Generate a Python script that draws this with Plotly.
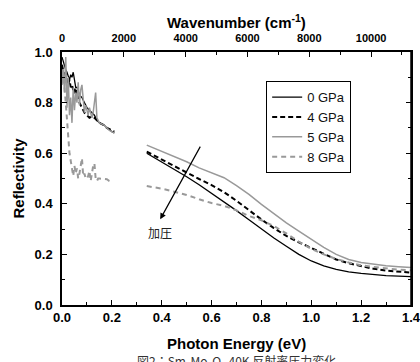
import plotly.graph_objects as go

# ---------------- data ----------------
# low-energy segment (noisy FIR data)
E_low_0 = [0.000,0.005,0.010,0.015,0.020,0.025,0.030,0.035,0.040,0.045,0.050,0.055,0.060,0.065,0.070,
           0.080,0.090,0.100,0.110,0.120,0.130,0.140,0.150,0.160,0.170,0.180,0.190,0.200,0.210]
R_low_0 = [0.98,0.96,0.94,0.93,0.92,0.90,0.89,0.91,0.90,0.92,0.88,0.86,0.86,0.84,0.83,
           0.82,0.80,0.78,0.77,0.76,0.75,0.73,0.72,0.715,0.71,0.70,0.695,0.685,0.68]
R_low_4 = [0.95,0.93,0.90,0.92,0.88,0.87,0.89,0.86,0.87,0.85,0.86,0.83,0.85,0.82,0.80,
           0.78,0.76,0.75,0.74,0.745,0.74,0.73,0.72,0.715,0.71,0.70,0.695,0.69,0.685]
E_low_g = [0.000,0.005,0.010,0.015,0.020,0.025,0.030,0.035,0.040,0.045,0.050,0.055,0.060,0.065,0.070,
           0.075,0.080,0.085,0.090,0.095,0.100,0.105,0.110,0.115,0.120,0.125,0.130,0.135,0.140,0.145,
           0.150,0.160,0.170,0.180,0.190,0.200,0.210]
R_low_5 = [0.87,0.93,0.84,0.98,0.78,0.90,0.75,0.82,0.72,0.86,0.77,0.84,0.80,0.88,0.79,
           0.85,0.87,0.80,0.76,0.79,0.77,0.75,0.78,0.76,0.74,0.76,0.80,0.84,0.74,0.73,
           0.72,0.715,0.71,0.70,0.69,0.685,0.68]
E_low_8 = [0.000,0.005,0.010,0.015,0.020,0.025,0.030,0.035,0.040,0.045,0.050,0.055,0.060,0.065,0.070,
           0.075,0.080,0.085,0.090,0.095,0.100,0.105,0.110,0.115,0.120,0.125,0.130,0.135,0.140,0.145,
           0.150,0.180,0.190,0.200]
R_low_8 = [0.93,0.90,0.86,0.80,0.72,0.66,0.60,0.57,0.53,0.51,0.55,0.52,0.54,0.50,0.52,
           0.55,0.58,0.51,0.52,0.50,0.50,0.51,0.53,0.49,0.53,0.55,0.56,0.50,0.49,0.50,
           0.50,0.497,0.49,0.488]

# high-energy segment
E_high = [0.34,0.40,0.45,0.50,0.55,0.60,0.65,0.70,0.75,0.80,0.85,0.90,0.95,1.00,1.05,1.10,
          1.15,1.20,1.25,1.30,1.35,1.40]
R_high_0 = [0.600,0.566,0.537,0.507,0.475,0.442,0.408,0.373,0.337,0.300,0.265,0.232,0.200,0.174,
            0.155,0.141,0.131,0.125,0.120,0.116,0.114,0.112]
R_high_4 = [0.606,0.575,0.549,0.521,0.498,0.474,0.446,0.412,0.374,0.338,0.304,0.273,0.248,0.225,
            0.200,0.180,0.165,0.153,0.143,0.136,0.131,0.128]
R_high_5 = [0.632,0.608,0.588,0.566,0.542,0.522,0.503,0.472,0.437,0.398,0.360,0.325,0.292,0.260,
            0.228,0.200,0.180,0.168,0.160,0.155,0.151,0.148]
R_high_8 = [0.470,0.460,0.448,0.435,0.418,0.403,0.392,0.374,0.352,0.335,0.312,0.283,0.250,0.222,
            0.200,0.182,0.168,0.157,0.150,0.144,0.140,0.137]

labels = ["0 GPa", "4 GPa", "5 GPa", "8 GPa"]
x_ticks = [0.0, 0.2, 0.4, 0.6, 0.8, 1.0, 1.2, 1.4]
y_ticks = [0.0, 0.2, 0.4, 0.6, 0.8, 1.0]
wn_ticks = [0, 2000, 4000, 6000, 8000, 10000]
EV_TO_CM = 8065.54

# ---------------- figure ----------------
FONT = "Liberation Sans, Arial, sans-serif"
styles = [
    dict(color="#000000", width=1.3, dash="solid"),
    dict(color="#000000", width=2.0, dash="5px,3px"),
    dict(color="#999999", width=1.5, dash="solid"),
    dict(color="#999999", width=2.0, dash="5px,4px"),
]

def join(e1, r1, e2, r2):
    return list(e1) + [None] + list(e2), list(r1) + [None] + list(r2)

series = [
    join(E_low_0, R_low_0, E_high, R_high_0),
    join(E_low_0, R_low_4, E_high, R_high_4),
    join(E_low_g, R_low_5, E_high, R_high_5),
    join(E_low_8, R_low_8, E_high, R_high_8),
]

fig = go.Figure()
for (xs, ys), name, st in zip(series, labels, styles):
    fig.add_trace(go.Scatter(x=xs, y=ys, mode="lines", name=name, line=st,
                             connectgaps=False, hoverinfo="skip"))

# dummy trace for top wavenumber axis / right frame axis
fig.add_trace(go.Scatter(x=[0, 1.4 * EV_TO_CM], y=[0.5, 0.5], xaxis="x2", yaxis="y2",
                         mode="lines", line=dict(width=0, color="rgba(0,0,0,0)"),
                         showlegend=False, hoverinfo="skip"))

axis_common = dict(showline=True, linecolor="#000000", linewidth=1.5, ticks="inside",
                   tickcolor="#000000", tickwidth=1, showgrid=False, zeroline=False,
                   automargin=False)

fig.update_layout(
    width=420, height=362,
    margin=dict(l=62, r=9, t=52, b=57),
    paper_bgcolor="white", plot_bgcolor="white",
    font=dict(family=FONT, color="#000000"),
    showlegend=True,
    legend=dict(x=0.585, y=0.885, xanchor="left", yanchor="top",
                bordercolor="#000000", borderwidth=1, bgcolor="white",
                font=dict(family=FONT, size=13, color="#111111"),
                tracegroupgap=0, itemwidth=30),
    xaxis=dict(range=[0, 1.4], tickvals=x_ticks, ticktext=[f"{v:.1f}" for v in x_ticks],
               ticklen=5, minor=dict(dtick=0.1, ticklen=3, ticks="inside", tickcolor="#000000"),
               tickfont=dict(family=FONT, size=13, weight="bold"), mirror=False,
               ticklabeloverflow="allow", **axis_common),
    xaxis2=dict(range=[0, 1.4 * EV_TO_CM], overlaying="x", side="top", anchor="y2",
                tickvals=wn_ticks, ticktext=[str(v) for v in wn_ticks],
                ticklen=5, minor=dict(dtick=1000, ticklen=3, ticks="inside", tickcolor="#000000"),
                tickfont=dict(family=FONT, size=11, weight="bold"), ticklabelstandoff=4,
                ticklabeloverflow="allow", **axis_common),
    yaxis=dict(range=[0, 1.0], tickvals=y_ticks, ticktext=[f"{v:.1f}" for v in y_ticks],
               ticklen=5, minor=dict(dtick=0.1, ticklen=3, ticks="inside", tickcolor="#000000"),
               tickfont=dict(family=FONT, size=13, weight="bold"), mirror=False,
               ticklabelstandoff=5, ticklabeloverflow="allow", **axis_common),
    yaxis2=dict(range=[0, 1.0], overlaying="y", side="right", anchor="x2",
                tickvals=y_ticks, showticklabels=False,
                ticklen=5, minor=dict(dtick=0.1, ticklen=3, ticks="inside", tickcolor="#000000"),
                **axis_common),
)

# plot frame (right edge)
fig.add_shape(type="line", xref="paper", yref="paper", x0=1, x1=1, y0=0, y1=1,
              line=dict(color="#000000", width=1.5), layer="above")

# titles
fig.add_annotation(text="<b>Wavenumber (cm<sup>-1</sup>)</b>", xref="paper", yref="paper",
                   x=0.5, y=1.121, xanchor="center", yanchor="middle", showarrow=False,
                   font=dict(family=FONT, size=15, color="#000000"))
fig.add_annotation(text="<b>Photon Energy (eV)</b>", xref="paper", yref="paper",
                   x=0.5, y=-0.154, xanchor="center", yanchor="middle", showarrow=False,
                   font=dict(family=FONT, size=15, color="#000000"))
fig.add_annotation(text="<b>Reflectivity</b>", xref="paper", yref="paper",
                   x=-0.126, y=0.5, xanchor="center", yanchor="middle", showarrow=False,
                   textangle=-90, font=dict(family=FONT, size=15, color="#000000"))
fig.add_annotation(text="図2：Sm<sub>2</sub>Mo<sub>2</sub>O<sub>7</sub> 40K 反射率圧力変化",
                   xref="paper", yref="paper", x=0.5, y=-0.222, xanchor="center",
                   yanchor="middle", showarrow=False,
                   font=dict(family="Noto Sans CJK JP", size=12, color="#333333"))

# pressure arrow
fig.add_annotation(x=0.394, y=0.339, ax=0.558, ay=0.632, xref="x", yref="y",
                   axref="x", ayref="y", text="", showarrow=True, arrowhead=2,
                   arrowsize=1, arrowwidth=1.2, arrowcolor="#000000")
fig.add_annotation(x=0.393, y=0.285, xref="x", yref="y", text="加圧", showarrow=False,
                   font=dict(family="Noto Sans CJK JP", size=12, color="#222222"))

fig.write_html("out.html")
